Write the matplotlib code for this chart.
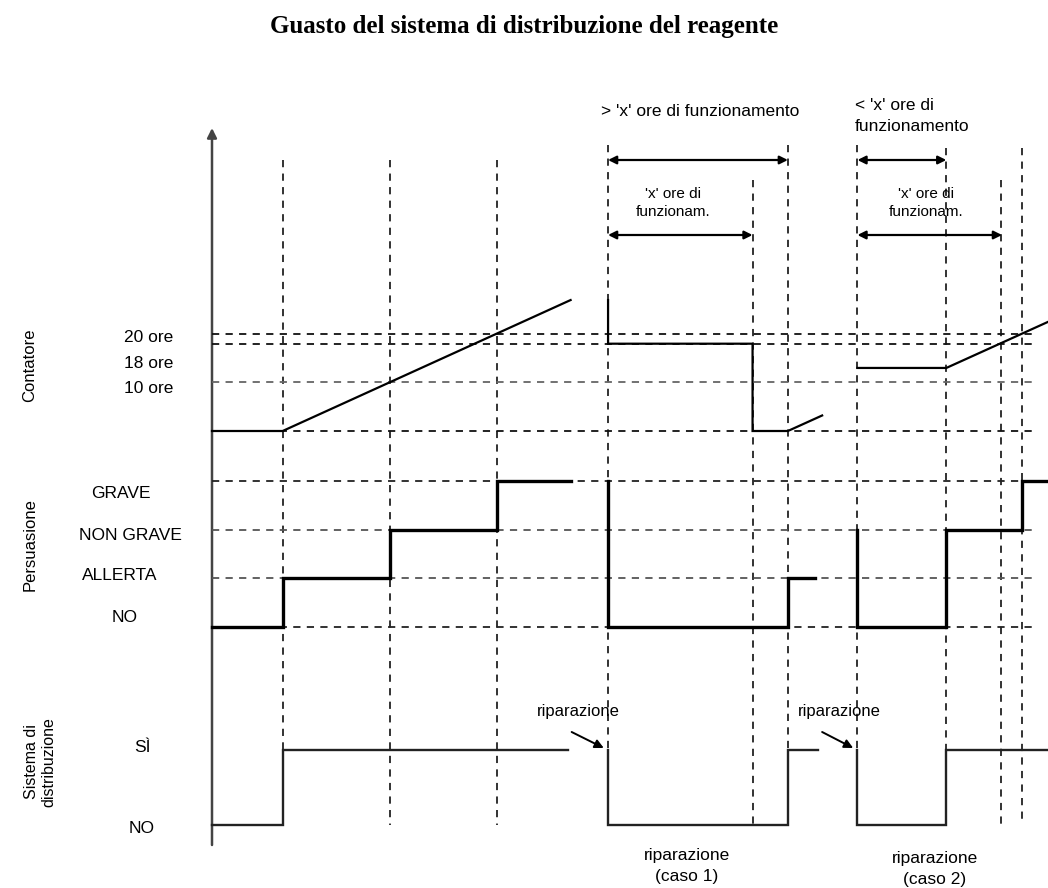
import matplotlib
matplotlib.use("Agg")
import matplotlib.pyplot as plt

W, H = 1048, 888
plt.rcParams['font.family'] = ['Liberation Sans', 'DejaVu Sans']

# time axis (arbitrary units ~ hours of operation)
T_END = 78.1
t_marks = [6.6, 16.6, 26.6, 37.0, 50.5, 53.8, 60.3, 68.6, 73.7, 75.7]
# vertical extent of each dashed marker (pixel rows, top / bottom)
mark_top = [160, 160, 160, 145, 180, 145, 145, 148, 180, 148]
mark_bot = [750, 825, 825, 750, 825, 750, 750, 825, 825, 825]

# Contatore (hours on the counter)
cnt_levels = [20, 18, 10, 0]
cnt_labels = ['20 ore', '18 ore', '10 ore']
cnt_t = [[0, 6.6, 33.5], [37.0, 37.0, 50.5, 50.5, 53.8, 57.0], [60.3, 68.6, 78.1]]
cnt_v = [[0, 0, 27], [27, 18, 18, 0, 0, 3.2], [13, 13, 22.5]]

# Persuasione (0 NO, 1 ALLERTA, 2 NON GRAVE, 3 GRAVE)
per_labels = ['NO', 'ALLERTA', 'NON GRAVE', 'GRAVE']
per_t = [[0, 6.6, 6.6, 16.6, 16.6, 26.6, 26.6, 33.5],
         [37.0, 37.0, 53.8, 53.8, 56.3],
         [60.3, 60.3, 68.6, 68.6, 75.7, 75.7, 78.1]]
per_v = [[0, 0, 1, 1, 2, 2, 3, 3],
         [3, 0, 0, 1, 1],
         [2, 0, 0, 2, 2, 3, 3]]

# Sistema di distribuzione (0 NO, 1 SI)
sis_labels = ['NO', 'SÌ']
sis_t = [[0, 6.6, 6.6, 33.3], [37.0, 37.0, 53.8, 53.8, 56.6], [60.3, 60.3, 68.6, 68.6, 78.1]]
sis_v = [[0, 0, 1, 1], [1, 0, 0, 1, 1], [1, 0, 0, 1, 1]]

X0 = 212  # pixel column of the time origin
PX_PER_T = (W - X0) / T_END


def fx(px):
    return px / W


def fy(py):
    return 1 - py / H


def panel(y_top, y_bot, v_top, v_bot):
    a = fig.add_axes([fx(X0), fy(y_bot), (W - X0) / W, (y_bot - y_top) / H])
    a.set_xlim(0, T_END)
    a.set_ylim(v_bot, v_top)
    a.axis('off')
    return a


fig = plt.figure(figsize=(W / 100, H / 100), dpi=100)

# background axes: x in time units, y in pixel rows
bg = fig.add_axes([0, 0, 1, 1])
bg.set_xlim(-X0 / PX_PER_T, T_END)
bg.set_ylim(H, 0)
bg.axis('off')

dash = (0, (4, 3.5))
for t, y0, y1 in zip(t_marks, mark_top, mark_bot):
    bg.plot([t, t], [y0, y1], color='#222222', lw=1.3, linestyle=dash)

# time axis with arrow
bg.annotate('', xy=(0, 128), xytext=(0, 845),
            arrowprops=dict(arrowstyle='-|>', color='#444444', lw=1.8,
                            mutation_scale=14, shrinkA=0, shrinkB=0))

# duration arrows
arr = dict(arrowstyle='<|-|>', color='black', lw=1.6, mutation_scale=12, shrinkA=0, shrinkB=0)
bg.annotate('', xy=(53.8, 160), xytext=(37.0, 160), arrowprops=arr)
bg.annotate('', xy=(50.5, 235), xytext=(37.0, 235), arrowprops=arr)
bg.annotate('', xy=(68.6, 160), xytext=(60.3, 160), arrowprops=arr)
bg.annotate('', xy=(73.8, 235), xytext=(60.3, 235), arrowprops=arr)

# repair pointers
rep = dict(arrowstyle='-|>', color='black', lw=1.4, mutation_scale=13, shrinkA=0, shrinkB=0)
bg.annotate('', xy=(36.6, 748), xytext=(33.6, 732), arrowprops=rep)
bg.annotate('', xy=(59.9, 748), xytext=(57.0, 732), arrowprops=rep)

# panels
ac = panel(334, 431, 20, 0)
ap = panel(481, 627, 3, 0)
asy = panel(750, 825, 1, 0)

t_dash_end = (1032 - X0) / PX_PER_T
for v, col in zip(cnt_levels, ['#111111', '#111111', '#666666', '#111111']):
    ac.plot([0, t_dash_end], [v, v], color=col, lw=1.3, linestyle=dash, clip_on=False)
for v, col in zip(range(4), ['#222222', '#555555', '#555555', '#222222']):
    ap.plot([0, t_dash_end], [v, v], color=col, lw=1.3, linestyle=dash, clip_on=False)

for t, v in zip(cnt_t, cnt_v):
    ac.plot(t, v, color='black', lw=1.6, clip_on=False, solid_joinstyle='miter')
for t, v in zip(per_t, per_v):
    ap.plot(t, v, color='black', lw=2.4, clip_on=False, solid_joinstyle='miter')
for t, v in zip(sis_t, sis_v):
    asy.plot(t, v, color='#222222', lw=1.7, clip_on=False, solid_joinstyle='miter')

# texts
fs = 12.5
fig.text(fx(524), fy(33), 'Guasto del sistema di distribuzione del reagente',
         ha='center', va='baseline', fontsize=18, fontweight='bold', family='Liberation Serif')

fig.text(fx(700), fy(112), "> 'x' ore di funzionamento", ha='center', va='center', fontsize=12.5)
fig.text(fx(855), fy(116), "< 'x' ore di\nfunzionamento", ha='left', va='center', fontsize=12.5,
         linespacing=1.45)
fig.text(fx(673), fy(203), "'x' ore di\nfunzionam.", ha='center', va='center', fontsize=11,
         linespacing=1.3)
fig.text(fx(926), fy(203), "'x' ore di\nfunzionam.", ha='center', va='center', fontsize=11,
         linespacing=1.3)

for lab, py in zip(cnt_labels, [338, 363, 388]):
    fig.text(fx(149), fy(py), lab, ha='center', va='center', fontsize=fs)
for lab, (px, py) in zip(per_labels, [(125, 618), (120, 575), (130, 535), (121, 493)]):
    fig.text(fx(px), fy(py), lab, ha='center', va='center', fontsize=fs)
for lab, py in zip(sis_labels, [828, 747]):
    fig.text(fx(142), fy(py), lab, ha='center', va='center', fontsize=fs)

fig.text(fx(30), fy(365), 'Contatore', rotation=90, ha='center', va='center', fontsize=12)
fig.text(fx(30), fy(545), 'Persuasione', rotation=90, ha='center', va='center', fontsize=12)
fig.text(fx(40), fy(762), 'Sistema di\ndistribuzione', rotation=90, ha='center', va='center',
         fontsize=11.5, linespacing=1.15)

fig.text(fx(578), fy(711), 'riparazione', ha='center', va='center', fontsize=12)
fig.text(fx(839), fy(711), 'riparazione', ha='center', va='center', fontsize=12)
fig.text(fx(687), fy(866), 'riparazione\n(caso 1)', ha='center', va='center', fontsize=fs,
         linespacing=1.5)
fig.text(fx(935), fy(869), 'riparazione\n(caso 2)', ha='center', va='center', fontsize=fs,
         linespacing=1.5)

fig.savefig('out.png', dpi=100)
